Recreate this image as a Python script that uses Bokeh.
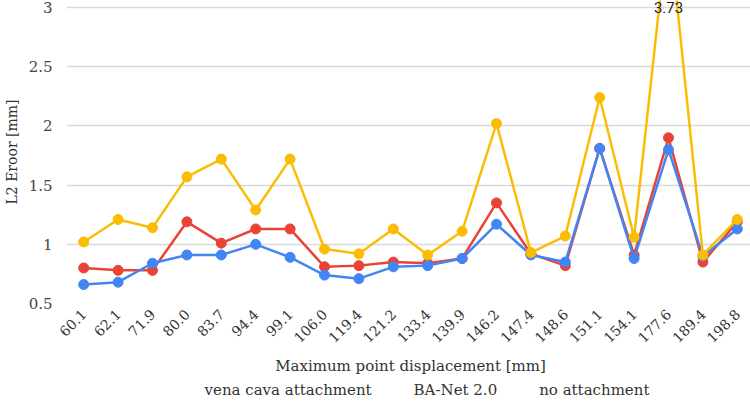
import math
from bokeh.plotting import figure
from bokeh.layouts import column
from bokeh.models import Range1d, FactorRange, Label, FixedTicker
from bokeh.embed import file_html
from bokeh.resources import INLINE

categories = ["60.1", "62.1", "71.9", "80.0", "83.7", "94.4", "99.1", "106.0", "119.4", "121.2",
              "133.4", "139.9", "146.2", "147.4", "148.6", "151.1", "154.1", "177.6", "189.4", "198.8"]
vena_cava = [0.80, 0.78, 0.78, 1.19, 1.01, 1.13, 1.13, 0.81, 0.82, 0.85,
             0.84, 0.88, 1.35, 0.92, 0.82, 1.81, 0.91, 1.90, 0.85, 1.19]
ba_net = [0.66, 0.68, 0.84, 0.91, 0.91, 1.00, 0.89, 0.74, 0.71, 0.81,
          0.82, 0.88, 1.17, 0.91, 0.85, 1.81, 0.88, 1.80, 0.90, 1.13]
no_attach = [1.02, 1.21, 1.14, 1.57, 1.72, 1.29, 1.72, 0.96, 0.92, 1.13,
             0.91, 1.11, 2.02, 0.93, 1.07, 2.24, 1.06, 3.73, 0.91, 1.21]
y_ticks = [0.5, 1, 1.5, 2, 2.5, 3]
labels = ["vena cava attachment", "BA-Net 2.0", "no attachment"]
colors = ["#EA4335", "#4285F4", "#FBBC04"]

SERIF = "DejaVu Serif"

p = figure(frame_width=688, frame_height=303, x_range=FactorRange(*categories),
           y_range=Range1d(0.5, 3.06), output_backend="svg", toolbar_location=None,
           min_border_top=0, min_border_right=0, min_border_left=0, min_border_bottom=0)
p.outline_line_color = None
p.xgrid.grid_line_color = None
p.ygrid.grid_line_color = "#d9d9d9"
p.ygrid.grid_line_width = 1.5

p.yaxis.ticker = FixedTicker(ticks=y_ticks)
p.yaxis.axis_line_color = None
p.yaxis.major_tick_line_color = None
p.yaxis.minor_tick_line_color = None
p.yaxis.major_label_text_font = SERIF
p.yaxis.major_label_text_font_size = "15px"
p.yaxis.major_label_text_color = "#444444"
p.yaxis.major_label_standoff = 8
p.yaxis.axis_label = "L2 Eroor [mm]"
p.yaxis.axis_label_text_font = SERIF
p.yaxis.axis_label_text_font_size = "14px"
p.yaxis.axis_label_text_font_style = "normal"
p.yaxis.axis_label_text_color = "#333333"
p.yaxis.axis_label_standoff = 6

p.xaxis.axis_line_color = None
p.xaxis.major_tick_line_color = None
p.xaxis.minor_tick_line_color = None
p.xaxis.major_label_orientation = math.pi / 4
p.xaxis.major_label_text_font = SERIF
p.xaxis.major_label_text_font_size = "14px"
p.xaxis.major_label_text_color = "#333333"
p.xaxis.major_label_standoff = 2
p.xaxis.axis_label = "Maximum point displacement [mm]"
p.xaxis.axis_label_text_font = SERIF
p.xaxis.axis_label_text_font_size = "15px"
p.xaxis.axis_label_text_font_style = "normal"
p.xaxis.axis_label_text_color = "#333333"
p.xaxis.axis_label_standoff = 6

for name, vals, col in zip(labels, [vena_cava, ba_net, no_attach], colors):
    p.line(categories, vals, line_color=col, line_width=2.5)
    p.scatter(categories, vals, size=10, fill_color=col, line_color=col)

p.add_layout(Label(x=categories.index("177.6") + 0.5, y=3, text="3.73", text_align="center",
                   text_baseline="middle", text_font="Roboto", text_font_size="15px",
                   text_color="#222222"))

# legend strip below the chart
lf = figure(width=750, height=26, output_backend="svg", toolbar_location=None,
            min_border_top=0, min_border_right=0, min_border_left=0, min_border_bottom=0)
lf.axis.visible = False
lf.grid.grid_line_color = None
lf.outline_line_color = None
for name, col in zip(labels, colors):
    lf.line([], [], line_color=col, line_width=2.5, legend_label=name)
    lf.scatter([], [], size=10, fill_color=col, line_color=col, legend_label=name)
lf.legend.orientation = "horizontal"
lf.legend.location = "center"
lf.legend.label_text_font = SERIF
lf.legend.label_text_font_size = "15px"
lf.legend.label_text_color = "#333333"
lf.legend.glyph_width = 36
lf.legend.glyph_height = 16
lf.legend.label_height = 16
lf.legend.spacing = 4
lf.legend.padding = 0
lf.legend.margin = 0
lf.legend.label_standoff = 2
lf.legend.border_line_color = None
lf.legend.background_fill_alpha = 0

layout = column(p, lf, spacing=0)
open("out.html", "w").write(file_html(layout, INLINE))
